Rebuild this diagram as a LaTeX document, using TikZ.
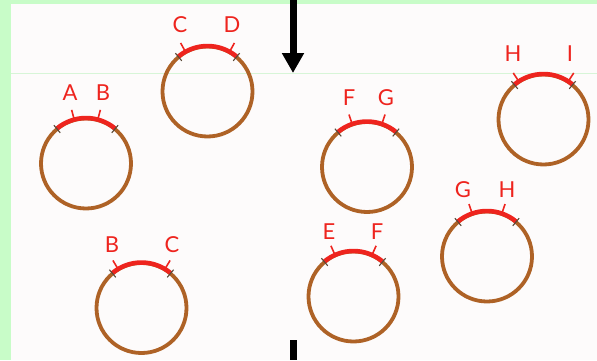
\documentclass[tikz,border=0pt]{standalone}
\usepackage{fontspec}
\setmainfont{Lato}
\usetikzlibrary{arrows.meta}
\definecolor{ringbrown}{RGB}{174,98,38}
\definecolor{arcred}{RGB}{238,36,30}
\definecolor{mint}{RGB}{200,252,200}
\definecolor{paper}{RGB}{253,251,251}
\definecolor{tickdark}{RGB}{90,72,55}
\definecolor{faintline}{RGB}{215,245,215}
\tikzset{
  ringnode/.style={circle,draw=ringbrown,line width=3.8pt,minimum size=90pt,inner sep=0pt},
  arcstyle/.style={draw=arcred,line width=4.5pt},
  endtick/.style={draw=tickdark,line width=1.1pt},
  labtick/.style={draw=arcred,line width=1.6pt},
  lab/.style={text=arcred,inner sep=0pt,font=\fontsize{22}{24}\selectfont},
  arrowline/.style={line width=7pt,black},
}
\newcommand\ring[7]{%
  \node[ringnode] (#1) at #2 {};
  \draw[arcstyle] (#1.center) ++(130:45.5) arc[start angle=130,end angle=50,radius=45.5];
  \draw[endtick] (#1.center) ++(50:40) -- ++(50:10);
  \draw[endtick] (#1.center) ++(130:40) -- ++(130:10);
  \draw[labtick] (#1.center) ++({90+#3}:46.5) -- ++({90+#3}:9);
  \draw[labtick] (#1.center) ++({90-#3}:46.5) -- ++({90-#3}:9);
  \node[lab] (#1-l) at #5 {#4};
  \node[lab] (#1-r) at #7 {#6};
}
\begin{document}
\begin{tikzpicture}[x=1pt,y=1pt]
\useasboundingbox (0,0) rectangle (597,360);
\fill[paper] (0,0) rectangle (597,360);
\fill[mint] (0,0) rectangle (11,360);
\fill[mint] (0,356) rectangle (597,360);
\draw[faintline,line width=0.8pt] (11,287) -- (597,287);
% rings
\ring{ab}{(86,196.5)}{15}{A}{(70,267)}{B}{(103,267)}
\ring{cd}{(207.5,268.5)}{29}{C}{(180,335)}{D}{(232,335)}
\ring{bc}{(141.5,52)}{31}{B}{(112,115)}{C}{(172,115)}
\ring{fg}{(367,193)}{19}{F}{(349,262)}{G}{(386,262)}
\ring{hi}{(543.5,240.5)}{33}{H}{(513,306)}{I}{(570,306)}
\ring{ef}{(353.5,63.5)}{24}{E}{(329,128.5)}{F}{(377,128.5)}
\ring{gh}{(487,103.5)}{19}{G}{(463,170.5)}{H}{(507,170.5)}
% arrow and bottom bar
\coordinate (arrtop) at (293,360);
\coordinate (arrtip) at (293,287);
\draw[arrowline,-{Triangle[width=21pt,length=20pt]}] (arrtop) -- (arrtip);
\coordinate (bartop) at (293.5,20);
\coordinate (barbot) at (293.5,0);
\draw[arrowline] (bartop) -- (barbot);
\end{tikzpicture}
\end{document}
